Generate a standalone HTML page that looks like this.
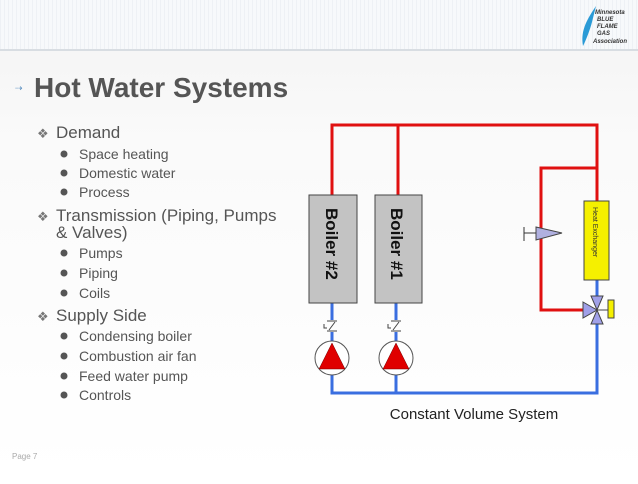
<!DOCTYPE html>
<html><head><style>
html,body{margin:0;padding:0;}
body{width:638px;height:479px;overflow:hidden;background:#fff;font-family:"Liberation Sans",sans-serif;}
</style></head><body>
<svg width="638" height="479" viewBox="0 0 638 479" xmlns="http://www.w3.org/2000/svg" font-family="Liberation Sans, sans-serif">
<defs>
<linearGradient id="bg" x1="0" y1="0" x2="0" y2="1">
<stop offset="0" stop-color="#f3f3f3"/><stop offset="0.3" stop-color="#fafafa"/><stop offset="1" stop-color="#ffffff"/>
</linearGradient>
<pattern id="grid" width="4" height="4" patternUnits="userSpaceOnUse"><rect width="4" height="4" fill="#f7f9fb"/><rect width="1" height="4" fill="#eef1f5"/></pattern>
</defs>
<rect width="638" height="479" fill="url(#bg)"/>
<rect width="638" height="50" fill="url(#grid)"/>
<rect y="49" width="638" height="2" fill="#d8dde2"/>
<path d="M596 6 C588 18 580 30 583 46 C586 40 590 30 592 22 Z" fill="#2a9ad6"/>
<text x="595" y="14" font-size="6" font-weight="bold" font-style="italic" fill="#333">Minnesota</text>
<text x="597" y="21" font-size="6" font-weight="bold" font-style="italic" fill="#333">BLUE</text>
<text x="597" y="28" font-size="6" font-weight="bold" font-style="italic" fill="#333">FLAME</text>
<text x="597" y="35" font-size="6" font-weight="bold" font-style="italic" fill="#333">GAS</text>
<text x="593" y="43" font-size="6" font-weight="bold" font-style="italic" fill="#333">Association</text>
<text x="15" y="91" font-size="9" fill="#5a8fc0">⇢</text>
<text x="34" y="97" font-size="28" font-weight="bold" fill="#555">Hot Water Systems</text>
<g fill="#555">
<text x="37" y="138" font-size="13" fill="#777">❖</text>
<text x="56" y="138" font-size="17">Demand</text>
<text x="37" y="221" font-size="13" fill="#777">❖</text>
<text x="56" y="221" font-size="17">Transmission (Piping, Pumps</text>
<text x="56" y="238" font-size="17">&amp; Valves)</text>
<text x="37" y="321" font-size="13" fill="#777">❖</text>
<text x="56" y="321" font-size="17">Supply Side</text>
<g font-size="14">
<text x="79" y="159">Space heating</text>
<text x="79" y="178">Domestic water</text>
<text x="79" y="197">Process</text>
<text x="79" y="258">Pumps</text>
<text x="79" y="278">Piping</text>
<text x="79" y="298">Coils</text>
<text x="79" y="341">Condensing boiler</text>
<text x="79" y="361">Combustion air fan</text>
<text x="79" y="381">Feed water pump</text>
<text x="79" y="400">Controls</text>
</g>
<g>
<circle cx="64" cy="154" r="3.5"/><circle cx="64" cy="173" r="3.5"/><circle cx="64" cy="192" r="3.5"/>
<circle cx="64" cy="253" r="3.5"/><circle cx="64" cy="273" r="3.5"/><circle cx="64" cy="293" r="3.5"/>
<circle cx="64" cy="336" r="3.5"/><circle cx="64" cy="356" r="3.5"/><circle cx="64" cy="376" r="3.5"/><circle cx="64" cy="395" r="3.5"/>
</g>
</g>
<text x="12" y="459" font-size="8" fill="#aaa">Page 7</text>
<g fill="none" stroke-width="3">
<path d="M332 195 V125 H597 V201" stroke="#e01010"/>
<path d="M398 125 V195" stroke="#e01010"/>
<path d="M597 168 H541 V310 H590" stroke="#e01010"/>
<path d="M332 303 V320 M332 332 V341 M332 375 V393 H597 V318 M597 280 V302" stroke="#3a6ee0"/>
<path d="M396 303 V320 M396 332 V341 M396 375 V393" stroke="#3a6ee0"/>
</g>
<rect x="309" y="195" width="48" height="108" fill="#c3c3c3" stroke="#444" stroke-width="1"/>
<rect x="375" y="195" width="47" height="108" fill="#c3c3c3" stroke="#444" stroke-width="1"/>
<text transform="translate(326,208) rotate(90)" font-size="17" font-weight="bold" fill="#111">Boiler #2</text>
<text transform="translate(391,208) rotate(90)" font-size="17" font-weight="bold" fill="#111">Boiler #1</text>
<rect x="584" y="201" width="25" height="79" fill="#f5f000" stroke="#444" stroke-width="1"/>
<text transform="translate(593,207) rotate(90)" font-size="7" fill="#333">Heat Exchanger</text>
<g stroke="#444" stroke-width="1" fill="none">
<path d="M327 321 H337 M327 331 H337 M329 330 L335 322 M324 324 V328 H327"/>
<path d="M391 321 H401 M391 331 H401 M393 330 L399 322 M388 324 V328 H391"/>
</g>
<circle cx="332" cy="358" r="17" fill="#fff" stroke="#555" stroke-width="1"/>
<path d="M332 343 L319 369 H345 Z" fill="#e00000" stroke="#700" stroke-width="0.5"/>
<circle cx="396" cy="358" r="17" fill="#fff" stroke="#555" stroke-width="1"/>
<path d="M396 343 L383 369 H409 Z" fill="#e00000" stroke="#700" stroke-width="0.5"/>
<path d="M536 227 L562 233 L536 240 Z" fill="#b0b0e0" stroke="#444" stroke-width="1"/>
<path d="M524 233 H536 M524 227 V241" stroke="#333" stroke-width="1"/>
<path d="M583 302 L597 310 L583 318 Z M591 296 L603 296 L597 310 Z M591 324 L603 324 L597 310 Z" fill="#a0a0e8" stroke="#444" stroke-width="1"/>
<path d="M597 310 H608" stroke="#444" stroke-width="1"/>
<rect x="608" y="300" width="6" height="18" fill="#f5f000" stroke="#444" stroke-width="1"/>
<text x="474" y="419" font-size="15" fill="#222" text-anchor="middle">Constant Volume System</text>
</svg>
</body></html>
